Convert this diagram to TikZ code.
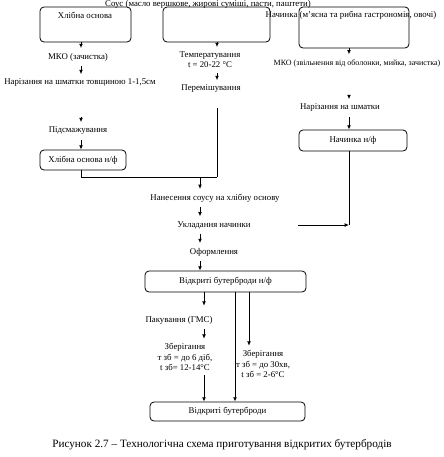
\documentclass[tikz,border=0pt]{standalone}
\usepackage{fontspec}
\setmainfont{Liberation Serif}
\usepackage{tikz}
\usetikzlibrary{arrows.meta,positioning,calc}
\definecolor{ink}{HTML}{000000}
\tikzset{
  box/.style   ={draw=ink, rounded corners=3pt, line width=0.6pt,
                 font=\fontsize{6.6}{7.6}\selectfont, inner sep=1pt},
  stage/.style ={font=\fontsize{6.6}{7.6}\selectfont, align=center,
                 inner xsep=1pt, inner ysep=3.5pt},
  title/.style ={font=\fontsize{6.6}{7.6}\selectfont, inner sep=0pt},
  arr/.style   ={-{Latex[length=3.2pt,width=2.8pt]}, line width=0.6pt, draw=ink},
  line/.style  ={line width=0.6pt, draw=ink},
  caption/.style={font=\fontsize{8.4}{9}\selectfont},
}
\begin{document}
\begin{tikzpicture}[x=0.75pt,y=-0.75pt]
  \useasboundingbox (0,0) rectangle (443,457);

  \coordinate (cL) at (81,0);
  \coordinate (cM) at (217,0);
  \coordinate (cR) at (349,0);
  \coordinate (cC) at (200,0);
  \coordinate (cP) at (204,0);
  \coordinate (cQ) at (235,0);
  \coordinate (cS) at (249,0);

  \node[box,minimum width=68.25pt,minimum height=26.25pt] (bread) at (85.5,24.5) {};
  \node[box,minimum width=80.25pt,minimum height=26.25pt] (sauce) at (216.5,24.5) {};
  \node[box,minimum width=82.5pt,minimum height=30.75pt] (filling) at (354,27.5) {};
  \node[title] (breadT) at (85,15) {Хлібна основа};
  \node[title] (sauceT) at (208,4) {Соус (масло вершкове, жирові суміші, пасти, паштети)};
  \node[title] (fillT) at (351,15) {Начинка (м’ясна та рибна гастрономія, овочі)};

  \node[stage] (mko) at (78,57) {МКО (зачистка)};
  \node[stage] (slice) at (80,83) {Нарізання на  шматки товщиною  1-1,5см};
  \node[stage] (fry) at (78,131) {Підсмажування};
  \node[box,minimum width=64.5pt,minimum height=15pt] (breadhf) at (83,160) {Хлібна основа н/ф};

  \node[stage] (temp) at (210,60) {Температування\\t = 20-22 °С};
  \node[stage] (mix) at (211,89) {Перемішування};

  \node[stage,font=\fontsize{6}{7}\selectfont,anchor=east] (mko2) at (442,63) {МКО (звільнення від оболонки,  мийка, зачистка)};
  \node[stage] (slice2) at (340,108) {Нарізання на  шматки};
  \node[box,minimum width=81pt,minimum height=15.75pt] (fillhf) at (353,140.5) {Начинка н/ф};

  \node[stage] (spread) at (215,198) {Нанесення соусу на хлібну основу};
  \node[stage] (lay) at (214,225) {Укладання начинки};
  \node[stage] (decor) at (214,252) {Оформлення};
  \node[box,minimum width=120.75pt,minimum height=15.75pt] (openhf) at (225.5,281.5) {Відкриті бутерброди  н/ф};

  \node[stage] (pack) at (179,320) {Пакування  (ГМС)};
  \node[stage] (store1) at (185,357) {Зберігання\\т зб  = до 6 діб,\\t зб= 12-14°С};
  \node[stage] (store2) at (263,364) {Зберігання\\т зб  = до 30хв,\\t зб  = 2-6°С};
  \node[box,minimum width=116.25pt,minimum height=14.25pt] (open) at (227.5,411.5) {Відкриті бутерброди};

  \node[caption] (cap) at (222,445) {Рисунок 2.7 – Технологічна схема приготування відкритих бутербродів};

  \coordinate (join) at (217,177);
  \coordinate (feed) at (298,225);

  \draw[arr] (bread.south -| cL) -- (mko.north -| cL);
  \draw[arr] (mko.south -| cL) -- (slice.north -| cL);
  \draw[arr,shorten <=19pt] (slice.south -| cL) -- (fry.north -| cL);
  \draw[arr] (fry.south -| cL) -- (breadhf.north -| cL);
  \draw[line] (breadhf.south -| cL) |- (join);

  \draw[arr] (sauce.south -| cM) -- (temp.north -| cM);
  \draw[arr] (temp.south -| cM) -- (mix.north -| cM);
  \draw[line,shorten <=8pt] (mix.south -| cM) -- (join);

  \draw[arr] (filling.south -| cR) -- (mko2.north -| cR);
  \draw[arr,shorten <=18pt] (mko2.south -| cR) -- (slice2.north -| cR);
  \draw[arr] (slice2.south -| cR) -- (fillhf.north -| cR);
  \draw[line] (fillhf.south -| cR) -- (feed -| cR);
  \draw[arr] (feed) -- (feed -| cR);

  \draw[arr] (join -| cC) -- (spread.north -| cC);
  \draw[arr] (spread.south -| cC) -- (lay.north -| cC);
  \draw[arr] (lay.south -| cC) -- (decor.north -| cC);
  \draw[arr] (decor.south -| cC) -- (openhf.north -| cC);

  \draw[arr,shorten >=4pt] (openhf.south -| cP) -- (pack.north -| cP);
  \draw[arr] (pack.south -| cP) -- (store1.north -| cP);
  \draw[arr] (store1.south -| cP) -- (open.north -| cP);
  \draw[arr] (openhf.south -| cQ) -- (open.north -| cQ);
  \draw[arr] (openhf.south -| cS) -- (store2.north -| cS);
\end{tikzpicture}
\end{document}
